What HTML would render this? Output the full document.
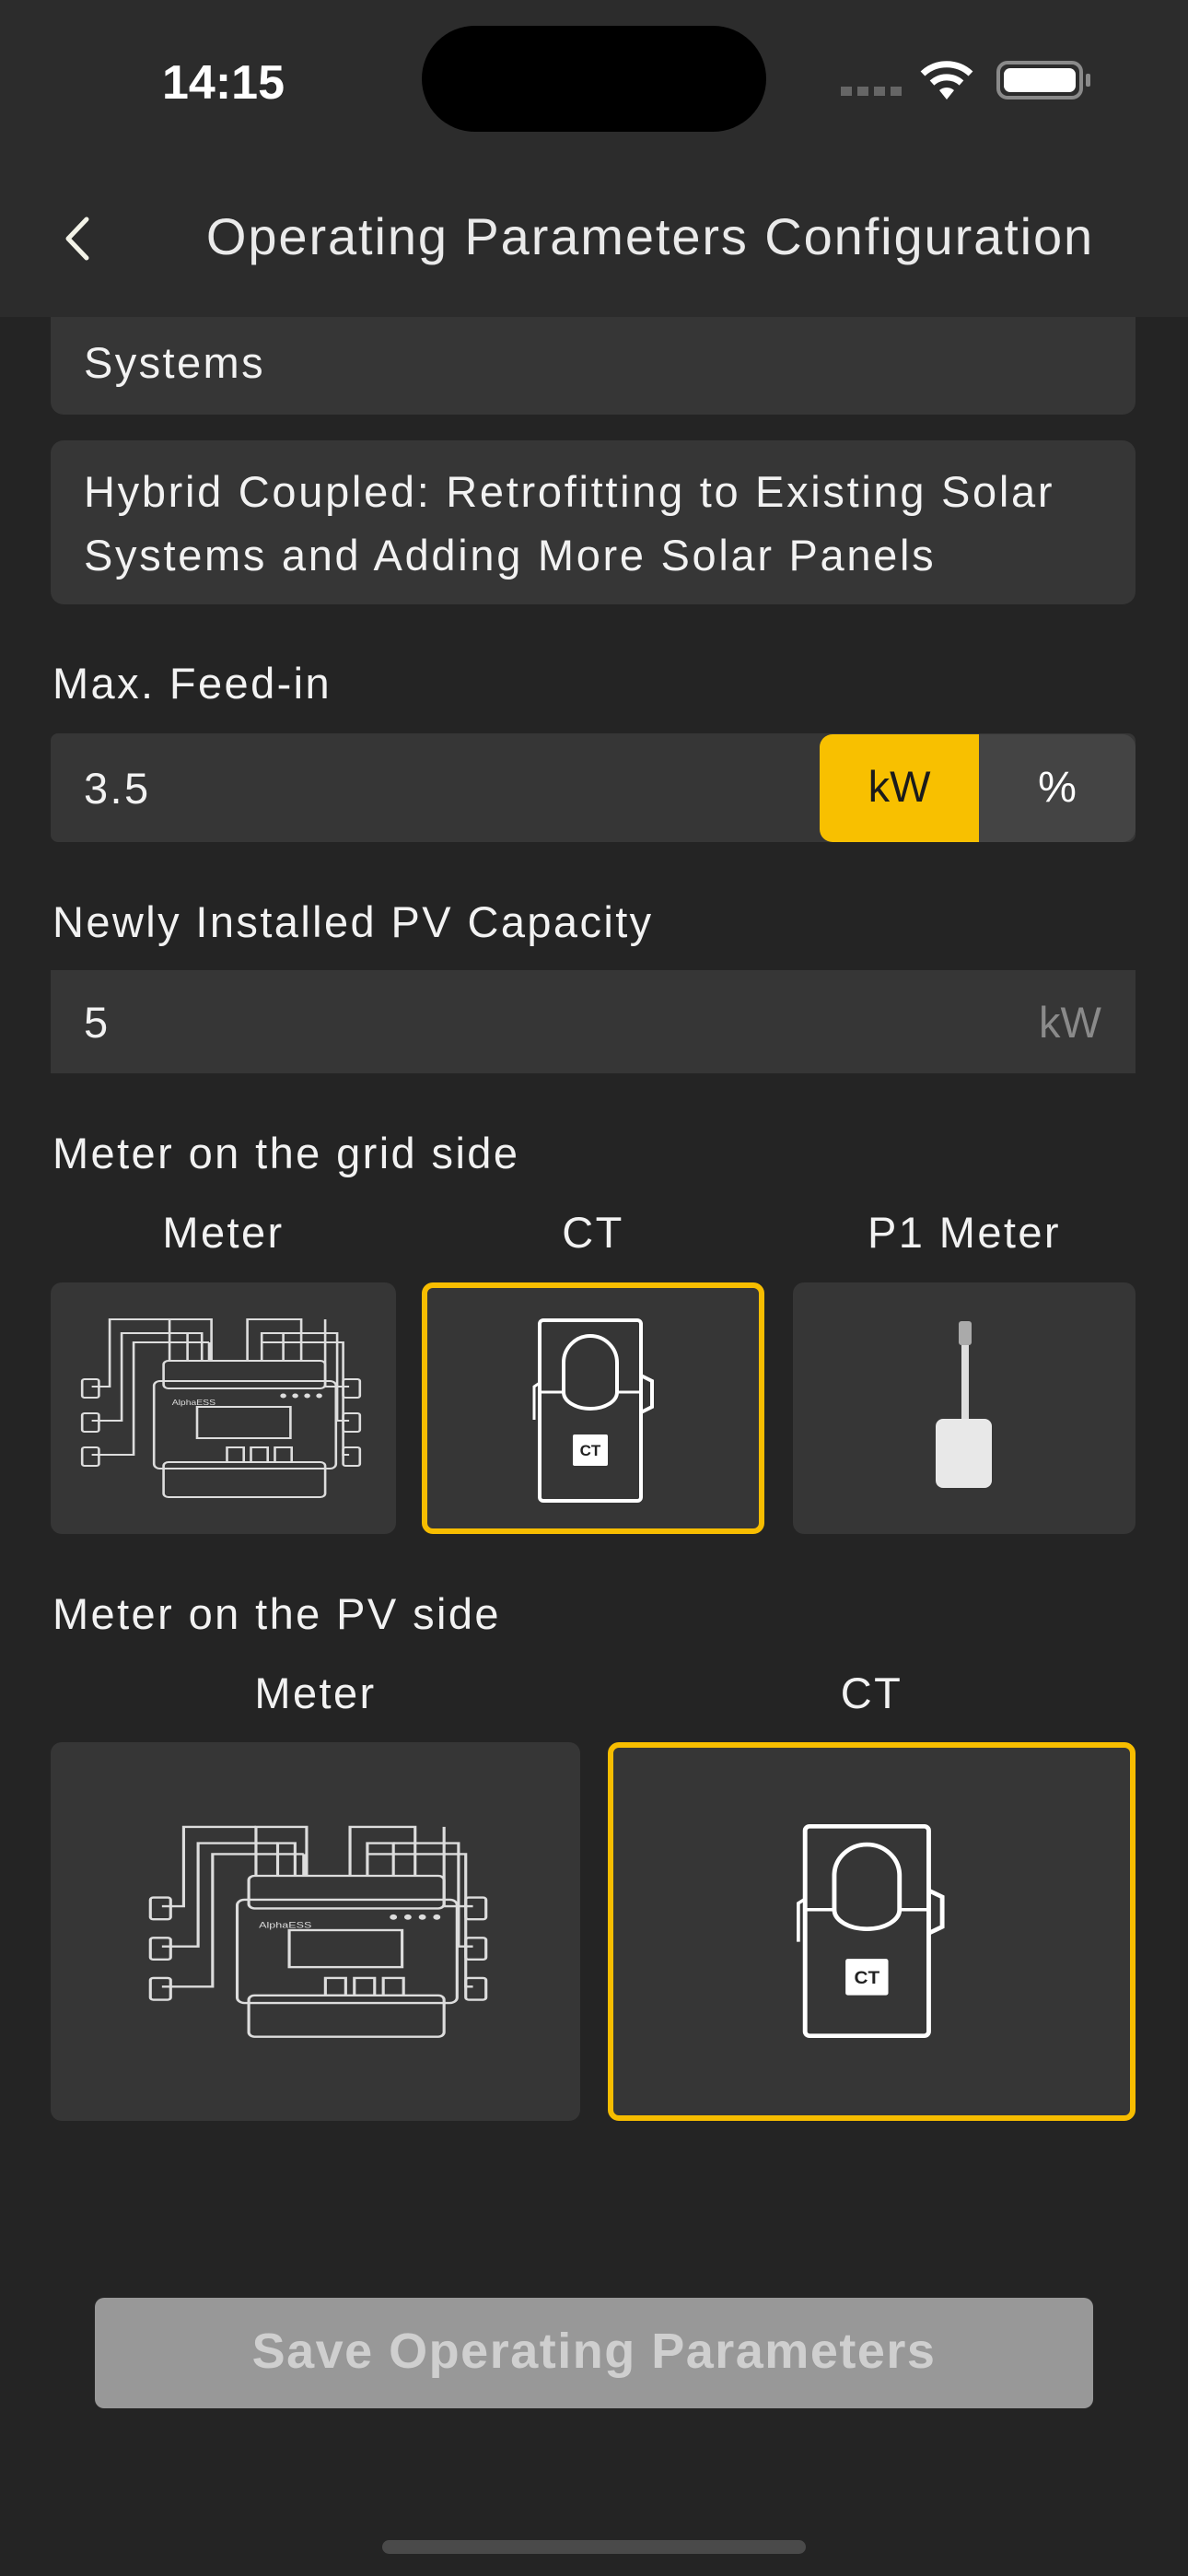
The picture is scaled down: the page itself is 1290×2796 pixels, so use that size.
<!DOCTYPE html>
<html><head><meta charset="utf-8"><style>
*{margin:0;padding:0;box-sizing:border-box}
body{width:1290px;height:2796px;background:#242424;font-family:"Liberation Sans",sans-serif;color:#f0f0f0;position:relative;overflow:hidden}
.a{position:absolute}
.box{background:#363636;border-radius:14px}
.lbl{font-size:47px;letter-spacing:2.4px;color:#f2f2f2;white-space:nowrap}
.card{background:#363636;border-radius:12px}
.sel{border:6px solid #f7bd00;border-radius:12px}
</style></head><body>
<!-- content boxes -->
<div class="a box" style="left:55px;top:330px;width:1178px;height:120px"></div>
<div class="a lbl" style="left:91px;top:366px">Systems</div>
<div class="a box" style="left:55px;top:478px;width:1178px;height:178px"></div>
<div class="a lbl" style="left:91px;top:499px;line-height:69px;letter-spacing:2.7px">Hybrid Coupled: Retrofitting to Existing Solar<br>Systems and Adding More Solar Panels</div>

<!-- nav -->
<div class="a" style="left:0;top:0;width:1290px;height:344px;background:#2c2c2c"></div>
<div class="a" style="left:176px;top:60px;font-size:52px;font-weight:bold;color:#fff">14:15</div>
<div class="a" style="left:458px;top:28px;width:374px;height:115px;background:#000;border-radius:58px"></div>
<div class="a" style="left:913px;top:94px;width:66px;height:10px;background:repeating-linear-gradient(90deg,#666 0 12px,transparent 12px 18px)"></div>
<svg class="a" style="left:998px;top:66px" width="60" height="44" viewBox="0 0 60 44"><path d="M30 42 L22 32 A12 12 0 0 1 38 32 Z" fill="#fff"/><path d="M14 24 A24 24 0 0 1 46 24" stroke="#fff" stroke-width="7" fill="none"/><path d="M4 14 A38 38 0 0 1 56 14" stroke="#fff" stroke-width="7" fill="none"/></svg>
<div class="a" style="left:1082px;top:66px;width:94px;height:42px;border:4px solid #8a8a8a;border-radius:12px;padding:4px"><div style="width:100%;height:100%;background:#fff;border-radius:7px"></div></div>
<div class="a" style="left:1179px;top:80px;width:5px;height:14px;background:#8a8a8a;border-radius:2px"></div>
<svg class="a" style="left:66px;top:234px" width="34" height="50" viewBox="0 0 34 50"><path d="M28 4 L8 25 L28 46" stroke="#f3f3e8" stroke-width="5" fill="none" stroke-linecap="round" stroke-linejoin="round"/></svg>
<div class="a" style="left:168px;top:224px;width:1076px;font-size:56px;letter-spacing:1.9px;color:#eaeaea;text-align:center;white-space:nowrap">Operating Parameters Configuration</div>

<!-- Max feed-in -->
<div class="a lbl" style="left:57px;top:714px">Max. Feed-in</div>
<div class="a" style="left:55px;top:796px;width:1178px;height:118px;background:#363636;border-radius:8px"></div>
<div class="a lbl" style="left:91px;top:828px">3.5</div>
<div class="a" style="left:890px;top:797px;width:173px;height:117px;background:#f8c000;border-radius:14px 0 0 14px"></div>
<div class="a" style="left:1063px;top:797px;width:170px;height:117px;background:#444;border-radius:0 14px 14px 0"></div>
<div class="a" style="left:890px;top:826px;width:173px;text-align:center;font-size:47px;color:#1b1b1b">kW</div>
<div class="a" style="left:1063px;top:826px;width:170px;text-align:center;font-size:47px;color:#fff">%</div>

<!-- PV capacity -->
<div class="a lbl" style="left:57px;top:973px">Newly Installed PV Capacity</div>
<div class="a" style="left:55px;top:1053px;width:1178px;height:112px;background:#363636"></div>
<div class="a lbl" style="left:91px;top:1082px">5</div>
<div class="a" style="left:1128px;top:1082px;font-size:47px;color:#8a8a8a">kW</div>

<!-- grid side -->
<div class="a lbl" style="left:57px;top:1224px">Meter on the grid side</div>
<div class="a lbl" style="left:55px;top:1310px;width:375px;text-align:center">Meter</div>
<div class="a lbl" style="left:458px;top:1310px;width:372px;text-align:center">CT</div>
<div class="a lbl" style="left:861px;top:1310px;width:372px;text-align:center">P1 Meter</div>
<div class="a card" style="left:55px;top:1392px;width:375px;height:273px"></div>
<div class="a card sel" style="left:458px;top:1392px;width:372px;height:273px"></div>
<div class="a card" style="left:861px;top:1392px;width:372px;height:273px"></div>

<svg width="0" height="0" style="position:absolute"><defs>
<g id="meter" fill="none" stroke="#ddd" stroke-width="2">
<rect x="90" y="50" width="135" height="30" rx="4"/>
<rect x="82" y="72" width="152" height="95" rx="5"/>
<rect x="90" y="160" width="135" height="38" rx="4"/>
<rect x="118" y="100" width="78" height="34" />
<rect x="143" y="144" width="14" height="16"/><rect x="163" y="144" width="14" height="16"/><rect x="183" y="144" width="14" height="16"/>
<path d="M95 50 V5 H130 V50 M110 50 V20 H122 V50 M128 50 V30"/>
<path d="M160 50 V5 H205 V50 M172 50 V20 H190 V50"/>
<path d="M30 78 H45 V5 H95 M30 115 H55 V20 H110 M30 152 H65 V30 H128"/>
<path d="M245 78 H225 V5 M245 115 H235 V20 H190 M245 152 H240 V30 H172"/>
<rect x="22" y="70" width="14" height="20" rx="2"/><rect x="22" y="107" width="14" height="20" rx="2"/><rect x="22" y="144" width="14" height="20" rx="2"/>
<rect x="240" y="70" width="14" height="20" rx="2"/><rect x="240" y="107" width="14" height="20" rx="2"/><rect x="240" y="144" width="14" height="20" rx="2"/>
<circle cx="190" cy="88" r="1.5" fill="#ddd"/><circle cx="200" cy="88" r="1.5" fill="#ddd"/><circle cx="210" cy="88" r="1.5" fill="#ddd"/><circle cx="220" cy="88" r="1.5" fill="#ddd"/>
<text x="97" y="98" font-size="8" fill="#ddd" stroke="none" font-family="Liberation Sans">AlphaESS</text>
</g>
<g id="ct">
<rect x="10" y="2" width="110" height="196" rx="4" fill="none" stroke="#fff" stroke-width="4"/>
<path d="M120 62 L132 68 V96 L120 102" fill="none" stroke="#fff" stroke-width="4"/>
<path d="M10 70 L4 74 V110" fill="none" stroke="#fff" stroke-width="3"/>
<path d="M10 80 H120" stroke="#fff" stroke-width="3"/>
<path d="M36 80 V48 A29 29 0 0 1 94 48 V80 A29 18 0 0 1 36 80 Z" fill="#363636" stroke="#fff" stroke-width="4"/>
<rect x="46" y="126" width="38" height="34" rx="2" fill="#fff"/>
<text x="65" y="149" font-size="17" font-weight="bold" text-anchor="middle" fill="#222" font-family="Liberation Sans">CT</text>
</g>
</defs></svg>

<svg class="a" style="left:84px;top:1427px" width="312" height="200" viewBox="18 0 240 200" preserveAspectRatio="none"><use href="#meter"/></svg>
<svg class="a" style="left:574px;top:1431px" width="140" height="200" viewBox="0 0 136 200"><use href="#ct"/></svg>
<div class="a" style="left:1044px;top:1436px;width:8px;height:110px;background:#ddd"></div>
<div class="a" style="left:1041px;top:1434px;width:14px;height:26px;background:#aaa;border-radius:3px"></div>
<div class="a" style="left:1016px;top:1540px;width:61px;height:75px;background:#e8e8e8;border-radius:8px"></div>

<!-- PV side -->
<div class="a lbl" style="left:57px;top:1724px">Meter on the PV side</div>
<div class="a lbl" style="left:55px;top:1810px;width:575px;text-align:center">Meter</div>
<div class="a lbl" style="left:660px;top:1810px;width:573px;text-align:center">CT</div>
<div class="a card" style="left:55px;top:1891px;width:575px;height:411px"></div>
<div class="a card sel" style="left:660px;top:1891px;width:573px;height:411px"></div>
<svg class="a" style="left:157px;top:1977px" width="377" height="236" viewBox="18 0 240 200" preserveAspectRatio="none"><use href="#meter"/></svg>
<svg class="a" style="left:862px;top:1980px" width="166" height="232" viewBox="0 0 136 200" preserveAspectRatio="none"><use href="#ct"/></svg>

<!-- save -->
<div class="a" style="left:103px;top:2494px;width:1084px;height:120px;background:#989898;border-radius:10px"></div>
<div class="a" style="left:103px;top:2521px;width:1084px;text-align:center;font-size:54px;letter-spacing:1.5px;font-weight:bold;color:#cfcfcf">Save Operating Parameters</div>
<div class="a" style="left:415px;top:2757px;width:460px;height:15px;background:#4a4a4a;border-radius:8px"></div>
</body></html>
